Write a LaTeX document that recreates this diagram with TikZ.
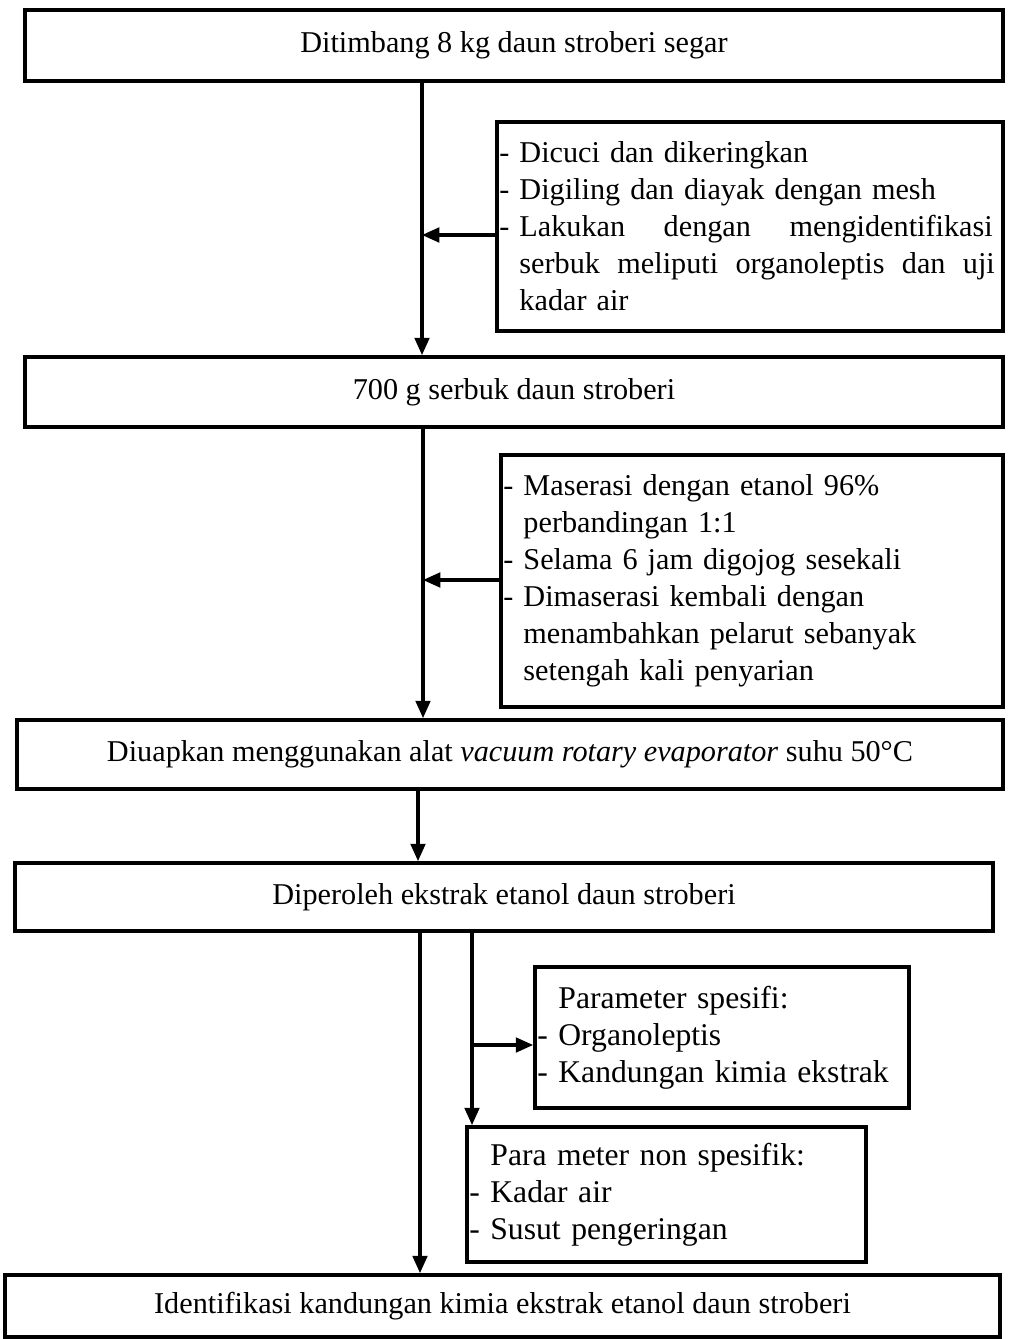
\documentclass[tikz,border=0pt]{standalone}
\usepackage{fontspec}
\setmainfont{Liberation Serif}
\usetikzlibrary{arrows.meta}

\begin{document}
\begin{tikzpicture}[x=0.015cm,y=-0.015cm,
    proses/.style ={draw, line width=1.6pt, inner sep=0pt, font=\fontsize{12.9}{15.8}\selectfont},
    catatan/.style ={draw, line width=1.6pt, inner xsep=1pt, inner ysep=0pt, align=left, font=\fontsize{12.9}{15.8}\selectfont},
    parameter/.style ={catatan, font=\fontsize{13.5}{15.8}\selectfont},
    panah/.style ={line width=1.3pt, -{Triangle[length=0.26cm,width=0.22cm]}}]
   \useasboundingbox (0,0) rectangle (1008,1339);
   \node[proses, minimum width=14.67cm, minimum height=1.065cm] (A) at (514,45.5) {Ditimbang 8 kg daun stroberi segar};
   \node[proses, minimum width=14.67cm, minimum height=1.05cm] (B) at (514,392) {700 g serbuk daun stroberi};
   \node[proses, minimum width=14.79cm, minimum height=1.035cm] (C) at (510,754.5) {Diuapkan menggunakan alat \textit{vacuum rotary evaporator} suhu 50°C};
   \node[proses, minimum width=14.67cm, minimum height=1.02cm] (D) at (504,897) {Diperoleh ekstrak etanol daun stroberi};
   \node[proses, minimum width=14.925cm, minimum height=0.93cm] (G) at (502.5,1306) {Identifikasi kandungan kimia ekstrak etanol daun stroberi};
   \node[catatan, text width=7.52cm, minimum height=3.135cm] (S1) at (750,226.5)
     {- Dicuci dan dikeringkan\\
      - Digiling dan diayak dengan mesh\\
      \leavevmode\hbox to 7.4cm{- Lakukan \hfill dengan\hfill\ mengidentifikasi}\\
      \hphantom{- }\hbox to 7.13cm{serbuk\hfill\ meliputi\hfill\ organoleptis\hfill\ dan\hfill\ uji}\\
      \hphantom{- }kadar air};
   \node[catatan, text width=7.46cm, minimum height=3.78cm] (S2) at (752,581)
     {- Maserasi dengan etanol 96\%\\
      \hphantom{- }perbandingan 1:1\\
      - Selama 6 jam digojog sesekali\\
      - Dimaserasi kembali dengan\\
      \hphantom{- }menambahkan pelarut sebanyak\\
      \hphantom{- }setengah kali penyarian};
   \node[parameter, text width=5.54cm, minimum height=2.115cm] (E) at (722,1037.5)
     {\hphantom{- }Parameter spesifi:\\ - Organoleptis\\ - Kandungan kimia ekstrak};
   \node[parameter, text width=5.915cm, minimum height=2.025cm] (F) at (666.5,1194.5)
     {\hphantom{- }Para meter non spesifik:\\ - Kadar air\\ - Susut pengeringan};
   \coordinate (t1) at (422,0);
   \coordinate (t2) at (423,0);
   \coordinate (t3) at (418,0);
   \coordinate (t4) at (420,0);
   \coordinate (t5) at (472,0);
   \coordinate (k1) at (422,235);
   \coordinate (k2) at (423,580);
   \coordinate (k5) at (472,1045);
   \draw[panah] (A.south -| t1) -- (B.north -| t1);
   \draw[panah] (k1 -| S1.west) -- (k1);
   \draw[panah] (B.south -| t2) -- (C.north -| t2);
   \draw[panah] (k2 -| S2.west) -- (k2);
   \draw[panah] (C.south -| t3) -- (D.north -| t3);
   \draw[panah] (D.south -| t4) -- (G.north -| t4);
   \draw[panah] (D.south -| t5) -- (F.north -| t5);
   \draw[panah] (k5) -- (k5 -| E.west);
 \end{tikzpicture}
\end{document}
